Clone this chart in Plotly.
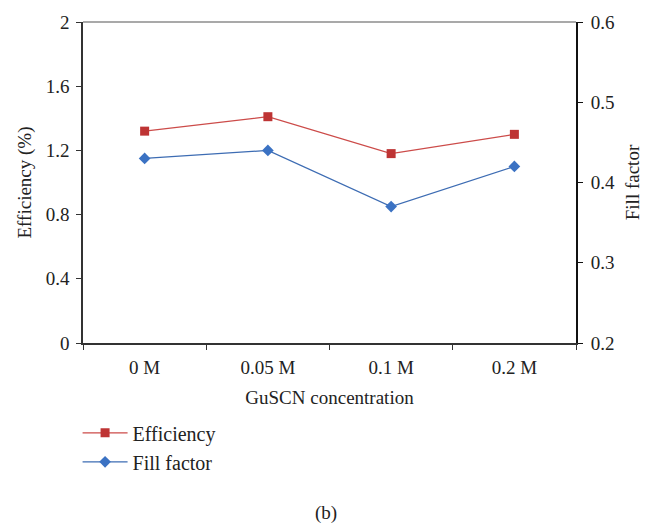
import plotly.graph_objects as go

# GuSCN concentration series
concentrations = ["0 M", "0.05 M", "0.1 M", "0.2 M"]
efficiency = [1.32, 1.41, 1.18, 1.30]
fill_factor = [0.43, 0.44, 0.37, 0.42]

eff_ticks = [0, 0.4, 0.8, 1.2, 1.6, 2]
eff_tick_text = ["0", "0.4", "0.8", "1.2", "1.6", "2"]
ff_ticks = [0.2, 0.3, 0.4, 0.5, 0.6]
ff_tick_text = ["0.2", "0.3", "0.4", "0.5", "0.6"]

FONT = "Liberation Serif"
TEXT = "#222222"
TICK_SIZE = 19
TITLE_SIZE = 19

fig = go.Figure()
fig.add_trace(go.Scatter(
    x=concentrations, y=efficiency, name="Efficiency", mode="lines+markers",
    line=dict(color="#CC4B49", width=1.3),
    marker=dict(symbol="square", size=9, color="#BE3434"),
    yaxis="y",
))
fig.add_trace(go.Scatter(
    x=concentrations, y=fill_factor, name="Fill factor", mode="lines+markers",
    line=dict(color="#3D6CB3", width=1.3),
    marker=dict(symbol="diamond", size=9, color="#3B72C3"),
    yaxis="y2",
))

fig.update_layout(
    width=652, height=523,
    margin=dict(l=83, r=74, t=18, b=180),
    paper_bgcolor="white", plot_bgcolor="white",
    font=dict(family=FONT, size=TICK_SIZE, color=TEXT),
    showlegend=True,
    legend=dict(
        x=-0.011, y=-0.219, xanchor="left", yanchor="top",
        font=dict(family=FONT, size=20, color=TEXT),
        bgcolor="rgba(0,0,0,0)", tracegroupgap=0, itemwidth=45,
    ),
    xaxis=dict(
        type="category", range=[-0.5, 3.5],
        showline=True, linecolor="#333333", linewidth=1.5,
        mirror=False, showgrid=False, zeroline=False,
        ticks="outside", ticklen=5, tickcolor="#333333", tickson="boundaries",
        ticklabelstandoff=6,
        tickfont=dict(family=FONT, size=TICK_SIZE, color=TEXT),
        title=dict(text="GuSCN concentration", standoff=14,
                   font=dict(family=FONT, size=TITLE_SIZE, color=TEXT)),
    ),
    yaxis=dict(
        range=[0, 2], tickvals=eff_ticks, ticktext=eff_tick_text,
        showline=True, linecolor="#333333", linewidth=1.5,
        showgrid=False, zeroline=False,
        ticks="outside", ticklen=5, tickcolor="#333333",
        ticklabelstandoff=3,
        tickfont=dict(family=FONT, size=TICK_SIZE, color=TEXT),
        title=dict(text="Efficiency (%)", standoff=9,
                   font=dict(family=FONT, size=TITLE_SIZE, color=TEXT)),
    ),
    yaxis2=dict(
        range=[0.2, 0.6], tickvals=ff_ticks, ticktext=ff_tick_text,
        overlaying="y", side="right",
        showline=True, linecolor="#111111", linewidth=2,
        showgrid=False, zeroline=False,
        ticks="outside", ticklen=5, tickcolor="#111111",
        ticklabelstandoff=4,
        tickfont=dict(family=FONT, size=TICK_SIZE, color=TEXT),
        title=dict(text="Fill factor", standoff=12,
                   font=dict(family=FONT, size=TITLE_SIZE, color=TEXT)),
    ),
    shapes=[dict(type="line", xref="paper", yref="paper", x0=0, x1=1, y0=1, y1=1,
                 line=dict(color="#555555", width=1.2))],
    annotations=[dict(text="(b)", xref="paper", yref="paper", x=0.492, y=-0.53,
                      xanchor="center", yanchor="middle", showarrow=False,
                      font=dict(family=FONT, size=19, color=TEXT))],
)

fig.write_html("out.html")
